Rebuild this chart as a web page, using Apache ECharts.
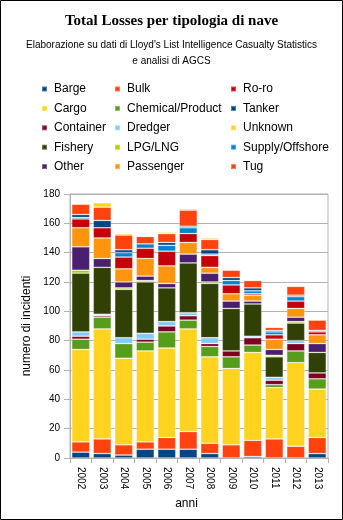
<!DOCTYPE html>
<html>
<head>
<meta charset="utf-8">
<style>
  html, body { margin: 0; padding: 0; background: #fff; }
  #chart { width: 343px; height: 520px; }
</style>
<script src="https://cdn.jsdelivr.net/npm/echarts@6/dist/echarts.min.js"></script>
</head>
<body>
<div id="chart"></div>
<script>
// Categories: years
const years = ['2002', '2003', '2004', '2005', '2006', '2007', '2008', '2009', '2010', '2011', '2012', '2013'];

// Total losses per ship type (number of incidents), stacked bottom to top
const barge     = [4, 3, 2, 6, 6, 6, 3, 0, 1, 0, 0, 3];
const bulk      = [7, 10, 7, 5, 8, 12, 7, 9, 11, 13, 8, 11];
const cargo     = [63, 75, 59, 62, 61, 70, 59, 52, 60, 35, 57, 33];
const chemical  = [7, 8, 10, 6, 11, 6, 7, 8, 5, 2, 8, 7];
const container = [2, 1, 0, 2, 4, 3, 2, 4, 5, 3, 5, 4];
const dredger   = [3, 1, 4, 4, 3, 2, 4, 0, 1, 2, 2, 0];
const fishery   = [40, 32, 33, 35, 23, 34, 37, 29, 22, 14, 12, 14];
const lpgLng    = [2, 0, 1, 1, 0, 0, 1, 0, 0, 1, 1, 0];
const other     = [16, 6, 4, 3, 3, 6, 6, 5, 2, 4, 3, 6];
const passenger = [13, 14, 9, 12, 12, 8, 4, 5, 4, 7, 6, 6];
const roro      = [6, 7, 8, 7, 10, 6, 8, 6, 1, 3, 5, 2];
const supply    = [1, 0, 3, 3, 4, 4, 1, 3, 2, 2, 3, 1];
const tanker    = [2, 5, 2, 0, 2, 1, 3, 2, 2, 1, 1, 0];
const tug       = [7, 9, 10, 5, 6, 11, 7, 5, 5, 2, 6, 7];
const unknown   = [0, 3, 1, 0, 1, 1, 1, 0, 0, 0, 0, 0];

// Y axis ticks
const yTicks = [0, 20, 40, 60, 80, 100, 120, 140, 160, 180];

const seriesDefs = [
  { name: 'Barge',            data: barge,     color: '#004586' },
  { name: 'Bulk',             data: bulk,      color: '#ff420e' },
  { name: 'Cargo',            data: cargo,     color: '#ffd320' },
  { name: 'Chemical/Product', data: chemical,  color: '#579d1c' },
  { name: 'Container',        data: container, color: '#7e0021' },
  { name: 'Dredger',          data: dredger,   color: '#83caff' },
  { name: 'Fishery',          data: fishery,   color: '#314004' },
  { name: 'LPG/LNG',          data: lpgLng,    color: '#aecf00' },
  { name: 'Other',            data: other,     color: '#4b1f6f' },
  { name: 'Passenger',        data: passenger, color: '#ff950e' },
  { name: 'Ro-ro',            data: roro,      color: '#c5000b' },
  { name: 'Supply/Offshore',  data: supply,    color: '#0084d1' },
  { name: 'Tanker',           data: tanker,    color: '#004586' },
  { name: 'Tug',              data: tug,       color: '#ff420e' },
  { name: 'Unknown',          data: unknown,   color: '#ffd320' }
];

// Legend columns
const legendCol1 = ['Barge', 'Cargo', 'Container', 'Fishery', 'Other'];
const legendCol2 = ['Bulk', 'Chemical/Product', 'Dredger', 'LPG/LNG', 'Passenger'];
const legendCol3 = ['Ro-ro', 'Tanker', 'Unknown', 'Supply/Offshore', 'Tug'];

// Subtitle lines
const subtitleLines = [
  "Elaborazione su dati di Lloyd's List Intelligence Casualty Statistics",
  'e analisi di AGCS'
];

const sans = '"Liberation Sans", Arial, sans-serif';

function makeLegend(data, left) {
  return {
    data: data,
    orient: 'vertical',
    left: left,
    top: 77,
    icon: 'rect',
    itemWidth: 5,
    itemHeight: 5,
    itemGap: 5.4,
    selectedMode: false,
    textStyle: {
      fontFamily: sans,
      fontSize: 12,
      color: '#000',
      lineHeight: 14,
      padding: [0, 0, 0, 2]
    }
  };
}

const chart = echarts.init(document.getElementById('chart'), null, { renderer: 'canvas' });

const subtitleGraphics = subtitleLines.map(function (line, i) {
  return {
    type: 'text',
    left: 'center',
    top: 40 + i * 16,
    silent: true,
    style: {
      text: line,
      font: '10px "Liberation Sans", Arial, sans-serif',
      fill: '#000'
    }
  };
});

chart.setOption({
  backgroundColor: '#ffffff',
  animation: false,
  title: {
    text: 'Total Losses per tipologia di nave',
    left: 'center',
    top: 9,
    textStyle: {
      fontFamily: '"Liberation Serif", "Times New Roman", serif',
      fontSize: 15,
      fontWeight: 'bold',
      color: '#000'
    }
  },
  legend: [
    makeLegend(legendCol1, 36),
    makeLegend(legendCol2, 109),
    makeLegend(legendCol3, 225)
  ],
  graphic: subtitleGraphics.concat([
    {
      // outer frame
      type: 'rect',
      shape: { x: 0.5, y: 0.5, width: 342, height: 519 },
      style: { fill: 'none', stroke: '#000', lineWidth: 1 },
      silent: true,
      z: 100
    }
  ]),
  grid: {
    left: 70,
    right: 15,
    top: 194,
    bottom: 62,
    show: true,
    borderColor: '#b3b3b3',
    borderWidth: 1,
    backgroundColor: 'transparent'
  },
  xAxis: {
    type: 'category',
    data: years,
    name: 'anni',
    nameLocation: 'middle',
    nameGap: 40,
    nameTextStyle: {
      fontFamily: sans,
      fontSize: 12,
      color: '#000',
      padding: [0, 25, 0, 0]
    },
    axisLine: { lineStyle: { color: '#b3b3b3' } },
    axisTick: { show: true, length: 5, lineStyle: { color: '#b3b3b3' } },
    axisLabel: {
      rotate: -90,
      margin: 9,
      fontFamily: sans,
      fontSize: 10,
      color: '#000'
    }
  },
  yAxis: {
    type: 'value',
    min: yTicks[0],
    max: yTicks[yTicks.length - 1],
    interval: yTicks[1] - yTicks[0],
    name: 'numero di incidenti',
    nameLocation: 'middle',
    nameGap: 34,
    nameTextStyle: {
      fontFamily: sans,
      fontSize: 12,
      color: '#000'
    },
    axisLine: { show: true, lineStyle: { color: '#b3b3b3' } },
    axisTick: { show: true, length: 6, lineStyle: { color: '#b3b3b3' } },
    axisLabel: {
      margin: 10,
      fontFamily: sans,
      fontSize: 10,
      color: '#000'
    },
    splitLine: { show: true, lineStyle: { color: '#b3b3b3', width: 1 } }
  },
  series: seriesDefs.map(function (s) {
    return {
      name: s.name,
      type: 'bar',
      stack: 'total',
      barCategoryGap: '16%',
      data: s.data.map(function (v) { return v === 0 ? '-' : v; }),
      itemStyle: {
        color: s.color,
        borderColor: 'rgba(255,255,255,0.3)',
        borderWidth: 0.8
      }
    };
  })
});
</script>
</body>
</html>
